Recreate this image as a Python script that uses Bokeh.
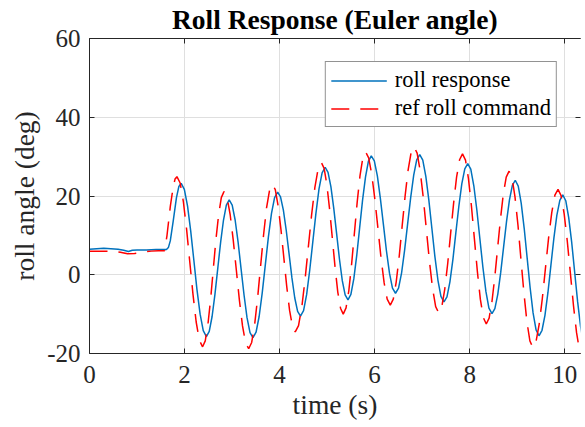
from bokeh.plotting import figure
from bokeh.models import Range1d, LinearAxis, FixedTicker, CustomLabelingPolicy
from bokeh.embed import file_html
from bokeh.resources import INLINE

# ---------------- data ----------------
t_resp = [0.0, 0.15, 0.3, 0.45, 0.6, 0.72, 0.82, 0.9, 1.0, 1.2, 1.4, 1.62,
          1.66, 1.70, 1.76, 1.83, 1.88, 1.93,
          1.996, 2.063, 2.129, 2.195, 2.261, 2.328, 2.394, 2.46,
          2.52, 2.58, 2.64, 2.70, 2.76, 2.82, 2.88, 2.94,
          3.003, 3.065, 3.128, 3.19, 3.253, 3.315, 3.378, 3.44,
          3.505, 3.57, 3.635, 3.70, 3.765, 3.83, 3.895, 3.96,
          4.02, 4.08, 4.14, 4.20, 4.26, 4.32, 4.38, 4.44,
          4.505, 4.57, 4.635, 4.70, 4.765, 4.83, 4.895, 4.96,
          5.02, 5.08, 5.14, 5.20, 5.26, 5.32, 5.38, 5.44,
          5.501, 5.563, 5.624, 5.685, 5.746, 5.808, 5.869, 5.93,
          5.994, 6.058, 6.121, 6.185, 6.249, 6.313, 6.376, 6.44,
          6.504, 6.568, 6.631, 6.695, 6.759, 6.823, 6.886, 6.95,
          7.014, 7.078, 7.141, 7.205, 7.269, 7.333, 7.396, 7.46,
          7.523, 7.585, 7.648, 7.71, 7.773, 7.835, 7.898, 7.96,
          8.024, 8.088, 8.151, 8.215, 8.279, 8.343, 8.406, 8.47,
          8.531, 8.593, 8.654, 8.715, 8.776, 8.838, 8.899, 8.96,
          9.023, 9.085, 9.148, 9.21, 9.273, 9.335, 9.398, 9.46,
          9.523, 9.585, 9.648, 9.71, 9.773, 9.835, 9.898, 9.96,
          10.023, 10.085, 10.148, 10.21, 10.273, 10.335, 10.398, 10.46]
roll_resp = [6.5, 6.6, 6.7, 6.6, 6.5, 6.2, 5.9, 6.2, 6.3, 6.3, 6.4, 6.4,
             6.9, 8.6, 13.5, 19.6, 22.4, 23.2,
             21.7, 17.5, 11.2, 3.8, -3.7, -10.0, -14.2, -15.7,
             -14.4, -10.6, -5.0, 1.7, 8.3, 13.9, 17.7, 19.0,
             17.7, 13.9, 8.2, 1.5, -5.2, -10.9, -14.7, -16.0,
             -14.6, -10.6, -4.6, 2.5, 9.6, 15.6, 19.6, 21.0,
             19.8, 16.4, 11.3, 5.3, -0.8, -5.9, -9.3, -10.5,
             -9.1, -5.0, 1.2, 8.4, 15.6, 21.8, 25.9, 27.3,
             26.0, 22.4, 16.9, 10.5, 4.0, -1.5, -5.1, -6.4,
             -5.0, -1.0, 4.9, 11.9, 18.9, 24.8, 28.8, 30.2,
             28.9, 25.1, 19.4, 12.8, 6.1, 0.4, -3.4, -4.7,
             -3.4, 0.5, 6.2, 12.9, 19.6, 25.3, 29.2, 30.5,
             29.1, 25.0, 19.0, 11.8, 4.6, -1.4, -5.5, -6.9,
             -5.6, -1.8, 3.9, 10.7, 17.4, 23.1, 26.9, 28.2,
             26.8, 22.6, 16.5, 9.2, 1.9, -4.3, -8.5, -9.9,
             -8.6, -4.9, 0.6, 7.1, 13.5, 19.0, 22.7, 24.0,
             22.5, 18.2, 11.8, 4.3, -3.3, -9.7, -14.0, -15.5,
             -14.1, -10.3, -4.5, 2.4, 9.3, 15.1, 18.9, 20.3,
             18.8, 14.5, 8.2, 0.7, -6.9, -13.2, -17.5, -19.0]

t_ref = [0.0, 0.3, 0.5, 0.65, 0.8, 0.95, 1.1, 1.3, 1.45, 1.58,
         1.63, 1.67, 1.70, 1.76, 1.80, 1.84,
         1.908, 1.975, 2.043, 2.11, 2.178, 2.245, 2.313, 2.38,
         2.436, 2.493, 2.549, 2.605, 2.661, 2.718, 2.774, 2.83,
         2.895, 2.96, 3.025, 3.09, 3.155, 3.22, 3.285, 3.35,
         3.413, 3.475, 3.538, 3.6, 3.663, 3.725, 3.788, 3.85,
         3.91, 3.97, 4.03, 4.09, 4.15, 4.21, 4.27, 4.33,
         4.399, 4.468, 4.536, 4.605, 4.674, 4.743, 4.811, 4.88,
         4.938, 4.995, 5.053, 5.11, 5.168, 5.225, 5.283, 5.34,
         5.399, 5.458, 5.516, 5.575, 5.634, 5.693, 5.751, 5.81,
         5.875, 5.94, 6.005, 6.07, 6.135, 6.2, 6.265, 6.33,
         6.393, 6.455, 6.518, 6.58, 6.643, 6.705, 6.768, 6.83,
         6.895, 6.96, 7.025, 7.09, 7.155, 7.22, 7.285, 7.35,
         7.413, 7.475, 7.538, 7.6, 7.663, 7.725, 7.788, 7.85,
         7.913, 7.975, 8.038, 8.1, 8.163, 8.225, 8.288, 8.35,
         8.41, 8.47, 8.53, 8.59, 8.65, 8.71, 8.77, 8.83,
         8.893, 8.955, 9.018, 9.08, 9.143, 9.205, 9.268, 9.33,
         9.396, 9.463, 9.529, 9.595, 9.661, 9.728, 9.794, 9.86,
         9.925, 9.99, 10.055, 10.12, 10.185, 10.25, 10.315, 10.38]
roll_ref = [6.0, 6.0, 6.0, 5.7, 5.35, 5.4, 5.75, 6.0, 6.1, 6.1,
            9.9, 14.1, 17.3, 22.2, 24.3, 24.9,
            23.3, 18.6, 11.6, 3.3, -5.0, -12.0, -16.7, -18.3,
            -16.8, -12.5, -6.2, 1.4, 9.0, 15.3, 19.6, 21.1,
            19.6, 15.3, 8.8, 1.2, -6.5, -13.0, -17.3, -18.8,
            -17.2, -12.7, -5.9, 2.1, 10.1, 16.9, 21.4, 23.0,
            21.6, 17.5, 11.4, 4.3, -2.9, -9.0, -13.1, -14.5,
            -12.9, -8.2, -1.2, 7.0, 15.2, 22.2, 26.9, 28.5,
            27.0, 22.9, 16.6, 9.3, 1.9, -4.4, -8.5, -10.0,
            -8.4, -4.0, 2.7, 10.6, 18.5, 25.2, 29.6, 31.2,
            29.7, 25.5, 19.2, 11.8, 4.3, -2.0, -6.2, -7.7,
            -6.2, -1.8, 4.7, 12.4, 20.1, 26.6, 31.0, 32.5,
            30.9, 26.3, 19.5, 11.4, 3.3, -3.5, -8.1, -9.7,
            -8.2, -3.8, 2.8, 10.5, 18.2, 24.8, 29.2, 30.7,
            29.1, 24.4, 17.4, 9.1, 0.8, -6.2, -10.9, -12.5,
            -11.0, -6.8, -0.5, 6.9, 14.3, 20.6, 24.8, 26.3,
            24.6, 19.7, 12.5, 3.9, -4.7, -11.9, -16.8, -18.5,
            -17.0, -12.6, -6.1, 1.6, 9.3, 15.8, 20.2, 21.7,
            20.1, 15.4, 8.5, 0.4, -7.8, -14.7, -19.4, -21.0]

x_ticks = [0, 2, 4, 6, 8, 10]
y_ticks = [-20, 0, 20, 40, 60]
y_tick_labels = {-20: "-20", 0: "0", 20: "20", 40: "40", 60: "60"}
title_text = "Roll Response (Euler angle)"
x_label = "time (s)"
y_label = "roll angle (deg)"
series_names = ["roll response", "ref roll command"]

# ---------------- styling ----------------
FONT = "Liberation Serif"
AX = "#262626"
GRID = "#dfdfdf"

p = figure(width=585, height=427, output_backend="svg", toolbar_location=None,
           x_range=Range1d(0, 10.333), y_range=Range1d(-20, 60),
           title=title_text, title_location="above",
           min_border_left=89, min_border_right=0,
           min_border_top=38, min_border_bottom=74)
p.outline_line_color = None
p.background_fill_color = "white"
p.border_fill_color = "white"

p.title.text_font = FONT
p.title.text_font_size = "27.5px"
p.title.text_font_style = "bold"
p.title.text_color = "black"
p.title.align = "center"
p.title.standoff = 0
p.title.offset = -3

for ax, ticks in ((p.xaxis[0], x_ticks), (p.yaxis[0], y_ticks)):
    ax.ticker = FixedTicker(ticks=ticks)
    ax.axis_line_color = AX
    ax.axis_line_width = 1
    ax.major_tick_line_color = AX
    ax.major_tick_in = 5
    ax.major_tick_out = 0
    ax.minor_tick_in = 0
    ax.minor_tick_out = 0
    ax.major_label_text_font = FONT
    ax.major_label_text_font_size = "25px"
    ax.major_label_text_color = AX
    ax.axis_label_text_font = FONT
    ax.axis_label_text_font_size = "27.5px"
    ax.axis_label_text_font_style = "normal"
    ax.axis_label_text_color = AX

p.xaxis[0].axis_label = x_label
p.xaxis[0].major_label_standoff = 12
p.xaxis[0].axis_label_standoff = 3
p.yaxis[0].axis_label = y_label
p.yaxis[0].major_label_standoff = 9
p.yaxis[0].axis_label_standoff = 4
p.yaxis[0].major_label_overrides = y_tick_labels

no_labels = CustomLabelingPolicy(code="return []")
for side, ticks, line_col in (("above", x_ticks, AX), ("right", y_ticks, None)):
    a = LinearAxis(ticker=FixedTicker(ticks=ticks),
                   major_label_policy=no_labels,
                   major_label_text_font_size="1px", major_label_standoff=0,
                   major_tick_in=5, major_tick_out=0,
                   minor_tick_in=0, minor_tick_out=0,
                   axis_line_color=line_col, axis_line_width=1,
                   major_tick_line_color=AX)
    p.add_layout(a, side)

p.xgrid.ticker = FixedTicker(ticks=x_ticks)
p.ygrid.ticker = FixedTicker(ticks=y_ticks)
p.xgrid.grid_line_color = GRID
p.ygrid.grid_line_color = GRID
p.xgrid.grid_line_width = 1
p.ygrid.grid_line_width = 1

p.line(t_resp, roll_resp, line_color="#0072BD", line_width=1.5,
       legend_label=series_names[0])
p.line(t_ref, roll_ref, line_color="#FF0000", line_width=1.5,
       line_dash="18 11", legend_label=series_names[1])

leg = p.legend[0]
leg.location = "top_right"
leg.margin = 23
leg.padding = 5
leg.spacing = 2
leg.glyph_width = 56
leg.glyph_height = 25
leg.label_height = 25
leg.label_width = 153
leg.label_standoff = 8
leg.label_text_font = FONT
leg.label_text_font_size = "22.5px"
leg.label_text_color = "black"
leg.border_line_color = AX
leg.border_line_width = 1
leg.background_fill_color = "white"
leg.background_fill_alpha = 1

open("out.html", "w").write(file_html(p, INLINE))
